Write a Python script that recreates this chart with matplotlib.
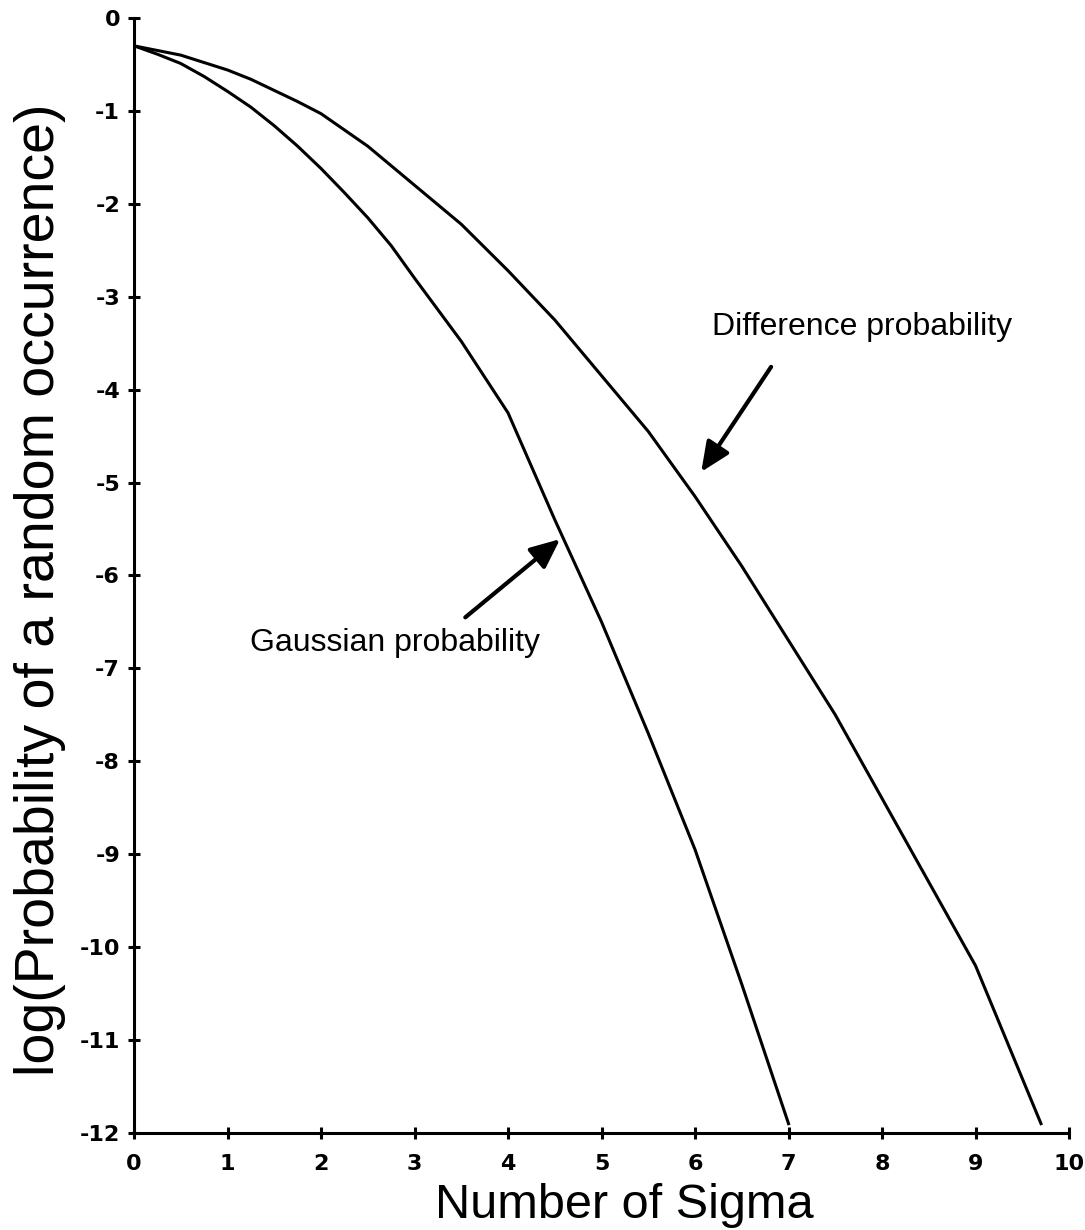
import numpy as np
import matplotlib
matplotlib.use('Agg')
import matplotlib.pyplot as plt

# values
sigma_gauss = [0, 0.25, 0.5, 0.75, 1, 1.25, 1.5, 1.75, 2, 2.25, 2.5, 2.75, 3,
               3.5, 4, 4.5, 5, 5.5, 6, 6.5, 7]
log_gauss = [-0.30, -0.39, -0.49, -0.63, -0.79, -0.96, -1.16, -1.38, -1.62,
             -1.88, -2.15, -2.45, -2.80, -3.48, -4.25, -5.40, -6.50, -7.70,
             -8.95, -10.40, -11.90]

sigma_diff = [0, 0.25, 0.5, 0.75, 1, 1.25, 1.5, 1.75, 2, 2.5, 3, 3.5, 4, 4.5,
              5, 5.5, 6, 6.5, 7, 7.5, 8, 8.5, 9, 9.7]
log_diff = [-0.30, -0.35, -0.40, -0.48, -0.56, -0.66, -0.78, -0.90, -1.03,
            -1.38, -1.80, -2.22, -2.72, -3.25, -3.85, -4.45, -5.15, -5.90,
            -6.70, -7.50, -8.40, -9.30, -10.20, -11.90]

x_ticks = [0, 1, 2, 3, 4, 5, 6, 7, 8, 9, 10]
y_ticks = [0, -1, -2, -3, -4, -5, -6, -7, -8, -9, -10, -11, -12]

plt.rcParams['font.family'] = ['Liberation Sans', 'DejaVu Sans']
plt.rcParams['axes.unicode_minus'] = False

fig = plt.figure(figsize=(10.85, 12.3), dpi=100)
ax = fig.add_axes([0.1235, 0.0789, 0.8618, 0.9065])

# the two curves
ax.plot(sigma_gauss, log_gauss, color='black', lw=2.2)
ax.plot(sigma_diff, log_diff, color='black', lw=2.2)

ax.set_xlim(0, 10)
ax.set_ylim(-12, 0)
ax.set_xticks(x_ticks)
ax.set_yticks(y_ticks)
tick_font = dict(fontsize=16, fontweight='bold',
                 family=['Liberation Sans Narrow', 'DejaVu Sans'])
ax.set_xticklabels([str(t) for t in x_ticks], **tick_font)
ax.set_yticklabels([str(t) for t in y_ticks], **tick_font)
ax.tick_params(direction='inout', length=8, width=2.2)
ax.tick_params(axis='x', pad=11)
ax.tick_params(axis='y', pad=6)

# only left and bottom axis lines, like the original
ax.spines['top'].set_visible(False)
ax.spines['right'].set_visible(False)
ax.spines['left'].set_linewidth(2.2)
ax.spines['bottom'].set_linewidth(2.2)

# annotations with arrows
arrow = dict(arrowstyle='-|>,head_length=1.8,head_width=0.8', color='black', lw=3)
ax.annotate('', xy=(6.05, -4.91), xytext=(6.83, -3.73), arrowprops=arrow)
ax.annotate('', xy=(4.58, -5.59), xytext=(3.52, -6.47), arrowprops=arrow)
ax.text(7.79, -3.33, 'Difference probability', fontsize=23, ha='center', va='center')
ax.text(2.79, -6.73, 'Gaussian probability', fontsize=23, ha='center', va='center')

# axis titles
fig.text(624 / 1085, 1 - 1218 / 1230, 'Number of Sigma', fontsize=35,
         ha='center', va='baseline')
fig.text(40 / 1085, 1 - 590 / 1230, 'log(Probability of a random occurrence)',
         fontsize=40, rotation=90, ha='center', va='center')

fig.savefig('out.png', dpi=100, facecolor='white')
